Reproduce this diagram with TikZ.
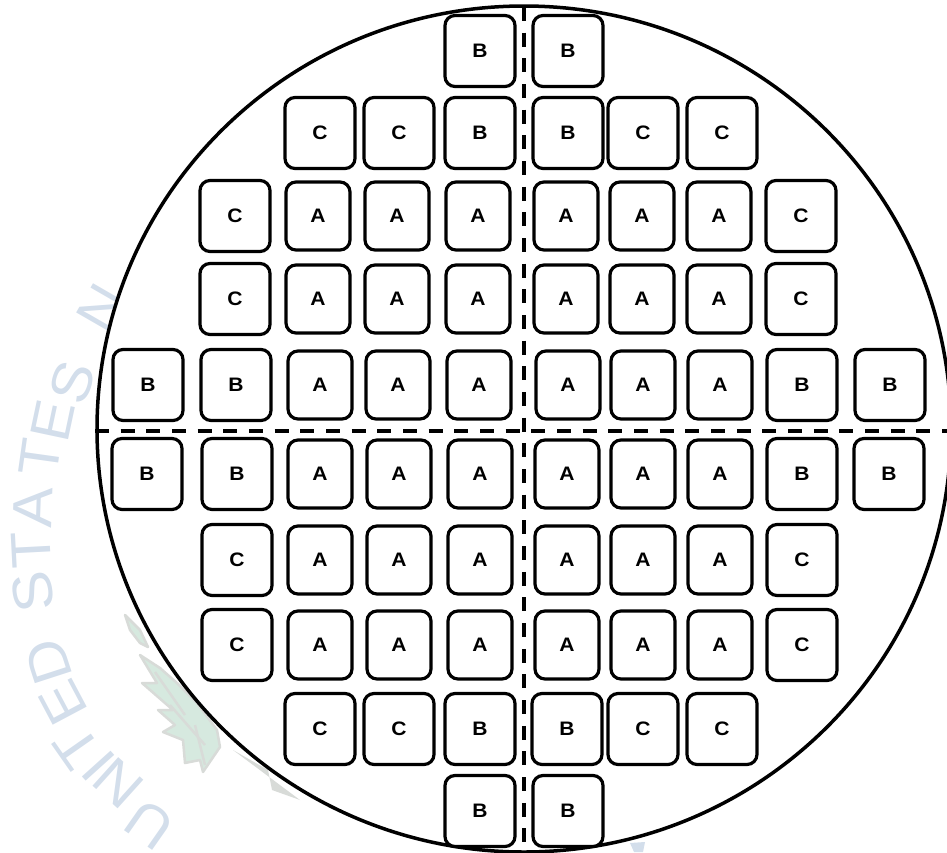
\documentclass[tikz,border=0pt]{standalone}
\usepackage{fontspec}
\setmainfont[FakeStretch=1.08]{Liberation Sans}
\usepackage{xcolor}
\usetikzlibrary{shapes.geometric, positioning}
\definecolor{sealblue}{RGB}{211,222,235}
\definecolor{sealgreen}{RGB}{214,233,223}
\definecolor{sealgray}{RGB}{216,219,216}
\tikzset{
  die/.style={rectangle, rounded corners=10pt, draw=black, fill=white, line width=3.2pt,
              minimum width=70pt, minimum height=71pt, inner sep=0pt, outer sep=0pt,
              font=\fontsize{19.5}{21}\selectfont\bfseries},
  smalldie/.style={die, minimum width=64pt, minimum height=68pt},
  wafer/.style={ellipse, draw=black, fill=white, line width=3.5pt, inner sep=0pt, outer sep=0pt,
                minimum width=854pt, minimum height=846pt},
  cutline/.style={draw=black, line width=3.5pt, dash pattern=on 14pt off 11.67pt},
  seal/.style={text=sealblue, inner sep=0pt, font=\fontsize{56}{58}\selectfont},
  leaf/.style={fill=sealgreen, draw=sealgray, line width=2.5pt, line join=round},
  streak/.style={draw=sealgray, line width=2.5pt},
}
\begin{document}
\begin{tikzpicture}[x=1pt, y=-1pt]
  \clip (0,0) rectangle (947,852);

  % watermark behind the wafer
  \node[seal, rotate=145] (sealU)  at (150,825) {U};
  \node[seal, rotate=138] (sealN)  at (118,783) {N};
  \node[seal, rotate=132] (sealI)  at (99,766)  {I};
  \node[seal, rotate=125] (sealT)  at (77,747)  {T};
  \node[seal, rotate=118] (sealE)  at (63,703)  {E};
  \node[seal, rotate=108] (sealD)  at (48,662)  {D};
  \node[seal, rotate=100] (sealS)  at (33,592)  {S};
  \node[seal, rotate=93]  (sealTb) at (31,550)  {T};
  \node[seal, rotate=88]  (sealA)  at (33,508)  {A};
  \node[seal, rotate=82]  (sealTc) at (40,458)  {T};
  \node[seal, rotate=78]  (sealEb) at (53,421)  {E};
  \node[seal, rotate=72]  (sealSb) at (72,382)  {S};
  \node[seal, rotate=60]  (sealNb) at (102,308) {N};
  \fill[sealblue] (630,843) -- (645,842) -- (643,852) -- (634,852) -- cycle;
  \filldraw[leaf] (125,615) -- (140,630) -- (148,647) -- (140,643) -- (130,630) -- cycle;
  \filldraw[leaf] (140,655) -- (160,668) -- (177,683) -- (197,703) -- (217,730) -- (220,747)
    -- (203,772) -- (200,760) -- (185,763) -- (183,740) -- (163,732) -- (175,725) -- (158,710)
    -- (173,710) -- (142,683) -- (157,683) -- cycle;
  \draw[streak] (155,672) -- (185,715);
  \draw[streak] (170,705) -- (205,745);
  \draw[streak] (195,725) -- (205,765);
  \fill[sealgray] (233,750) -- (300,800) -- (272,790) -- (268,770) -- cycle;

  % wafer and cut lines
  \node[wafer] (wafer) at (524,429) {};
  \coordinate (cuttop)    at (524,7);
  \coordinate (cutbottom) at (524,851);
  \coordinate (cutleft)   at (95,431);
  \coordinate (cutright)  at (947,431);
  \draw[cutline] (cuttop)  -- (cutbottom);
  \draw[cutline] (cutleft) -- (cutright);

  % row 1
  \node[die] (a1) at (480,51) {B};
  \node[die, right=18pt of a1] (a2) {B};

  % row 2
  \node[die] (b1) at (320,133) {C};
  \node[die, right=9pt of b1]  (b2) {C};
  \node[die, right=11pt of b2] (b3) {B};
  \node[die, right=18pt of b3] (b4) {B};
  \node[die, right=5pt of b4]  (b5) {C};
  \node[die, right=9pt of b5]  (b6) {C};

  % row 3
  \node[die] (c1) at (235,216) {C};
  \node[smalldie, right=16pt of c1] (c2) {A};
  \node[smalldie, right=15pt of c2] (c3) {A};
  \node[smalldie, right=17pt of c3] (c4) {A};
  \node[smalldie, right=24pt of c4] (c5) {A};
  \node[smalldie, right=12pt of c5] (c6) {A};
  \node[smalldie, right=13pt of c6] (c7) {A};
  \node[die, right=15pt of c7]      (c8) {C};

  % row 4
  \node[die] (d1) at (235,299) {C};
  \node[smalldie, right=16pt of d1] (d2) {A};
  \node[smalldie, right=15pt of d2] (d3) {A};
  \node[smalldie, right=17pt of d3] (d4) {A};
  \node[smalldie, right=24pt of d4] (d5) {A};
  \node[smalldie, right=12pt of d5] (d6) {A};
  \node[smalldie, right=13pt of d6] (d7) {A};
  \node[die, right=15pt of d7]      (d8) {C};

  % row 5
  \node[die] (e1) at (148,385) {B};
  \node[die, right=18pt of e1]      (e2) {B};
  \node[smalldie, right=17pt of e2] (e3) {A};
  \node[smalldie, right=14pt of e3] (e4) {A};
  \node[smalldie, right=17pt of e4] (e5) {A};
  \node[smalldie, right=25pt of e5] (e6) {A};
  \node[smalldie, right=11pt of e6] (e7) {A};
  \node[smalldie, right=13pt of e7] (e8) {A};
  \node[die, right=15pt of e8]      (e9) {B};
  \node[die, right=18pt of e9]      (e10) {B};

  % row 6
  \node[die] (f1) at (147,474) {B};
  \node[die, right=20pt of f1]      (f2) {B};
  \node[smalldie, right=16pt of f2] (f3) {A};
  \node[smalldie, right=15pt of f3] (f4) {A};
  \node[smalldie, right=17pt of f4] (f5) {A};
  \node[smalldie, right=23pt of f5] (f6) {A};
  \node[smalldie, right=12pt of f6] (f7) {A};
  \node[smalldie, right=13pt of f7] (f8) {A};
  \node[die, right=15pt of f8]      (f9) {B};
  \node[die, right=17pt of f9]      (f10) {B};

  % row 7
  \node[die] (g1) at (237,560) {C};
  \node[smalldie, right=16pt of g1] (g2) {A};
  \node[smalldie, right=15pt of g2] (g3) {A};
  \node[smalldie, right=17pt of g3] (g4) {A};
  \node[smalldie, right=23pt of g4] (g5) {A};
  \node[smalldie, right=12pt of g5] (g6) {A};
  \node[smalldie, right=13pt of g6] (g7) {A};
  \node[die, right=15pt of g7]      (g8) {C};

  % row 8
  \node[die] (h1) at (237,645) {C};
  \node[smalldie, right=16pt of h1] (h2) {A};
  \node[smalldie, right=15pt of h2] (h3) {A};
  \node[smalldie, right=17pt of h3] (h4) {A};
  \node[smalldie, right=23pt of h4] (h5) {A};
  \node[smalldie, right=12pt of h5] (h6) {A};
  \node[smalldie, right=13pt of h6] (h7) {A};
  \node[die, right=15pt of h7]      (h8) {C};

  % row 9
  \node[die] (i1) at (320,729) {C};
  \node[die, right=9pt of i1]  (i2) {C};
  \node[die, right=11pt of i2] (i3) {B};
  \node[die, right=17pt of i3] (i4) {B};
  \node[die, right=6pt of i4]  (i5) {C};
  \node[die, right=9pt of i5]  (i6) {C};

  % row 10
  \node[die] (j1) at (480,811) {B};
  \node[die, right=18pt of j1] (j2) {B};
\end{tikzpicture}
\end{document}
